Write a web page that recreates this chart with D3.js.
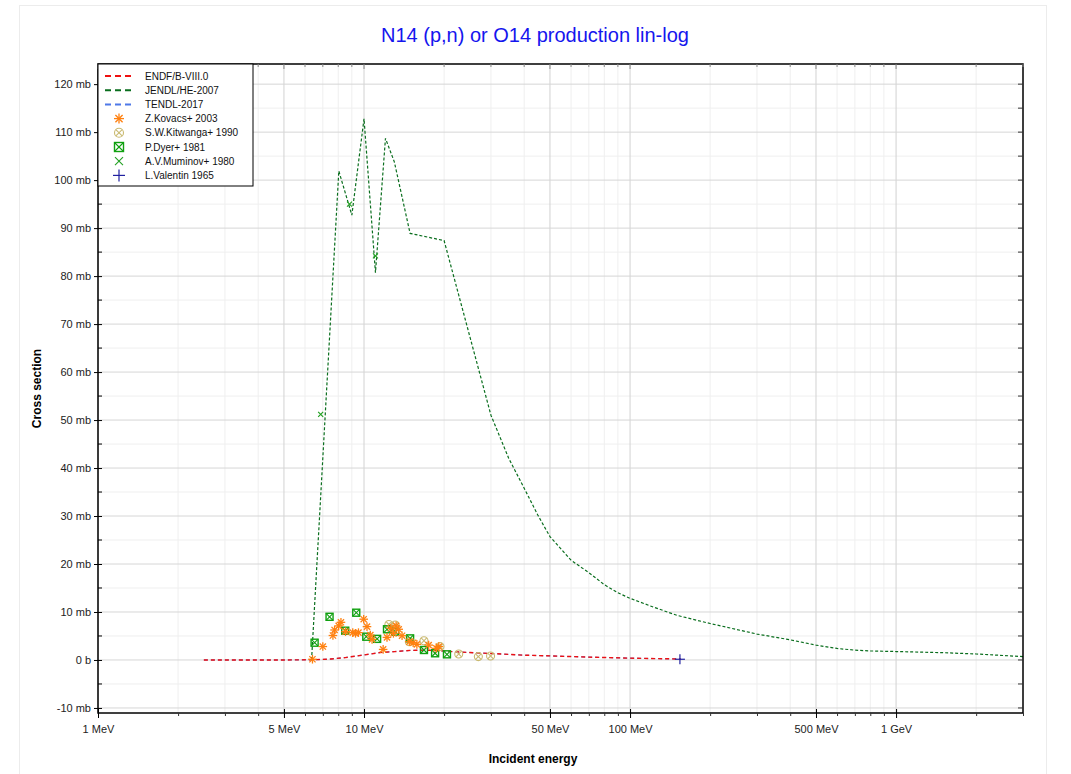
<!DOCTYPE html>
<html><head><meta charset="utf-8">
<script src="https://cdn.jsdelivr.net/npm/d3@7"></script>
<style>
body{margin:0;background:#fff;}
svg{font-family:"Liberation Sans",Arial,sans-serif;}
</style></head>
<body><svg id="c" width="1071" height="774"></svg>
<script>
// ---- data (energies in MeV, cross sections in mb) ----
const xTickValues = [1, 5, 10, 50, 100, 500, 1000];
const xTickLabels = ["1 MeV", "5 MeV", "10 MeV", "50 MeV", "100 MeV", "500 MeV", "1 GeV"];
const yTickValues = [-10, 0, 10, 20, 30, 40, 50, 60, 70, 80, 90, 100, 110, 120];
const yTickLabels = ["-10 mb", "0 b", "10 mb", "20 mb", "30 mb", "40 mb", "50 mb", "60 mb", "70 mb", "80 mb", "90 mb", "100 mb", "110 mb", "120 mb"];

const jendlE = [6.35, 8.04, 9.0, 10.0, 11.04, 12.04, 13.0, 14.9, 20.0, 30.0, 35, 40, 45, 50, 60, 70, 80, 90, 100, 120, 150, 200, 300, 400, 500, 600, 700, 800, 1000, 1500, 2000, 3000];
const jendlV = [0, 101.9, 92.7, 112.8, 80.7, 108.7, 103.8, 88.9, 87.4, 51.0, 42.0, 35.8, 30.2, 25.7, 20.8, 18.2, 15.7, 14.0, 12.85, 11.2, 9.3, 7.6, 5.4, 4.2, 3.1, 2.4, 2.05, 1.88, 1.76, 1.52, 1.25, 0.7];

const endfE = [2.5, 5.0, 6.5, 7.5, 8.5, 10.0, 11.5, 13.0, 15.0, 17.0, 19.0, 22.0, 25.0, 30.0, 40.0, 50.0, 70.0, 100.0, 155.0];
const endfV = [0, 0, 0.05, 0.2, 0.5, 1.05, 1.55, 1.75, 2.0, 2.05, 1.95, 1.7, 1.55, 1.35, 1.0, 0.85, 0.6, 0.38, 0.2];

const tendlE = [2.5, 5.0, 6.5, 7.5, 8.5, 10.0, 11.5, 13.0, 15.0, 17.0, 19.0, 22.0, 25.0, 30.0, 40.0, 50.0, 70.0, 100.0, 155.0];
const tendlV = [0, 0, 0.05, 0.2, 0.5, 1.05, 1.55, 1.75, 2.0, 2.05, 1.95, 1.7, 1.55, 1.35, 1.0, 0.85, 0.6, 0.38, 0.2];

const kovacsE = [6.4, 7.0, 7.64, 7.75, 8.03, 8.19, 8.52, 9.07, 9.29, 9.53, 9.97, 10.26, 10.56, 10.72, 11.8, 12.2, 12.6, 12.9, 13.2, 13.5, 13.9, 14.8, 15.3, 15.8, 17.5, 18.7, 19.1];
const kovacsV = [0.15, 2.8, 5.1, 6.25, 7.1, 7.85, 5.9, 5.7, 5.55, 5.7, 8.5, 6.95, 5.2, 4.3, 2.2, 4.7, 6.6, 5.55, 7.1, 6.4, 5.06, 3.8, 3.6, 3.26, 3.1, 2.43, 2.8];

const kitwangaE = [12.4, 13.1, 14.8, 16.8, 19.3, 22.7, 26.9, 29.9];
const kitwangaV = [7.4, 7.3, 3.8, 4.0, 2.8, 1.25, 0.7, 0.83];

const dyerE = [6.52, 7.42, 8.5, 9.35, 10.2, 11.2, 12.2, 13.1, 14.9, 16.8, 18.5, 20.5];
const dyerV = [3.6, 9.0, 6.1, 9.85, 4.85, 4.4, 6.4, 5.9, 4.5, 2.08, 1.4, 1.18];

const muminovE = [6.87, 8.82, 11.04];
const muminovV = [51.2, 95.0, 84.2];

const valentinE = [154];
const valentinV = [0.15];

const legendLabels = ["ENDF/B-VIII.0", "JENDL/HE-2007", "TENDL-2017", "Z.Kovacs+ 2003", "S.W.Kitwanga+ 1990", "P.Dyer+ 1981", "A.V.Muminov+ 1980", "L.Valentin 1965"];

// ---- drawing ----
const svg = d3.select("#c");
const L = 98, R = 1023, T = 64, B = 713;
const x = d3.scaleLog().domain([1, 3000]).range([L, R]);
const y = d3.scaleLinear().domain([-11.05, 124.2]).range([B, T]);

// outer frame
svg.append("rect").attr("x", 19.5).attr("y", 5.5).attr("width", 1027).attr("height", 780)
  .attr("fill", "none").attr("stroke", "#ececec");

// title
svg.append("text").attr("x", 535).attr("y", 42).attr("text-anchor", "middle")
  .attr("font-size", 20).attr("fill", "#1515ee").text("N14 (p,n) or O14 production lin-log");

// grid
const xMinor = [];
for (let d = 1; d <= 1000; d *= 10) for (let k = 1; k <= 9; k++) { const v = d * k; if (v <= 3000 && !xTickValues.includes(v)) xMinor.push(v); }
const yMinor = d3.range(-10, 125, 5).filter(v => v % 10 !== 0);
const g = svg.append("g");
g.selectAll(".xm").data(xMinor).join("line").attr("x1", d => x(d)).attr("x2", d => x(d)).attr("y1", T).attr("y2", B).attr("stroke", "#efefef");
g.selectAll(".ym").data(yMinor).join("line").attr("x1", L).attr("x2", R).attr("y1", d => y(d)).attr("y2", d => y(d)).attr("stroke", "#efefef");
g.selectAll(".xM").data(xTickValues).join("line").attr("x1", d => x(d)).attr("x2", d => x(d)).attr("y1", T).attr("y2", B).attr("stroke", "#d2d2d2");
g.selectAll(".yM").data(yTickValues).join("line").attr("x1", L).attr("x2", R).attr("y1", d => y(d)).attr("y2", d => y(d)).attr("stroke", "#d6d6d6");

// curves
const line = (E, V) => d3.line().x((d, i) => x(E[i])).y((d, i) => y(V[i]))(E);
svg.append("path").attr("d", line(tendlE, tendlV)).attr("fill", "none").attr("stroke", "#4060e0").attr("stroke-width", 1.0).attr("stroke-dasharray", "4,3");
svg.append("path").attr("d", line(endfE, endfV)).attr("fill", "none").attr("stroke", "#ee1111").attr("stroke-width", 1.4).attr("stroke-dasharray", "4,3");
svg.append("path").attr("d", line(jendlE, jendlV)).attr("fill", "none").attr("stroke", "#0a6e1e").attr("stroke-width", 1.2).attr("stroke-dasharray", "3,2");

// marker functions
function asterisk(sel, cx, cy, c, r) {
  const a = r * 0.72;
  [[-r, 0, r, 0], [0, -r, 0, r], [-a, -a, a, a], [-a, a, a, -a]].forEach(s =>
    sel.append("line").attr("x1", cx + s[0]).attr("y1", cy + s[1]).attr("x2", cx + s[2]).attr("y2", cy + s[3]).attr("stroke", c).attr("stroke-width", 1.3));
}
function circX(sel, cx, cy, c, r) {
  sel.append("circle").attr("cx", cx).attr("cy", cy).attr("r", r).attr("fill", "none").attr("stroke", c).attr("stroke-width", 1.1);
  const a = r * 0.7;
  [[-a, -a, a, a], [-a, a, a, -a]].forEach(s =>
    sel.append("line").attr("x1", cx + s[0]).attr("y1", cy + s[1]).attr("x2", cx + s[2]).attr("y2", cy + s[3]).attr("stroke", c).attr("stroke-width", 1.1));
}
function sqX(sel, cx, cy, c, r) {
  sel.append("rect").attr("x", cx - r).attr("y", cy - r).attr("width", 2 * r).attr("height", 2 * r).attr("fill", "none").attr("stroke", c).attr("stroke-width", 1.4);
  [[-r, -r, r, r], [-r, r, r, -r]].forEach(s =>
    sel.append("line").attr("x1", cx + s[0]).attr("y1", cy + s[1]).attr("x2", cx + s[2]).attr("y2", cy + s[3]).attr("stroke", c).attr("stroke-width", 1.1));
}
function xMark(sel, cx, cy, c, r) {
  [[-r, -r, r, r], [-r, r, r, -r]].forEach(s =>
    sel.append("line").attr("x1", cx + s[0]).attr("y1", cy + s[1]).attr("x2", cx + s[2]).attr("y2", cy + s[3]).attr("stroke", c).attr("stroke-width", 1.1));
}
function plus(sel, cx, cy, c, r) {
  [[-r, 0, r, 0], [0, -r, 0, r]].forEach(s =>
    sel.append("line").attr("x1", cx + s[0]).attr("y1", cy + s[1]).attr("x2", cx + s[2]).attr("y2", cy + s[3]).attr("stroke", c).attr("stroke-width", 1.2));
}
const COL = { kov: "#ff8010", kit: "#c9b970", dyer: "#10a010", mum: "#20a020", val: "#2020a0" };
const mg = svg.append("g");
kitwangaE.forEach((e, i) => circX(mg, x(e), y(kitwangaV[i]), COL.kit, 4));
dyerE.forEach((e, i) => sqX(mg, x(e), y(dyerV[i]), COL.dyer, 3.5));
kovacsE.forEach((e, i) => asterisk(mg, x(e), y(kovacsV[i]), COL.kov, 4.3));
muminovE.forEach((e, i) => xMark(mg, x(e), y(muminovV[i]), COL.mum, 2.5));
valentinE.forEach((e, i) => plus(mg, x(e), y(valentinV[i]), COL.val, 5));

// frame
svg.append("rect").attr("x", L).attr("y", T).attr("width", R - L).attr("height", B - T).attr("fill", "none").attr("stroke", "#000").attr("stroke-width", 1.5);

// axes
const xAxis = d3.axisBottom(x).tickValues(xTickValues).tickFormat((d, i) => xTickLabels[i]).tickSize(5).tickPadding(7);
const xa = svg.append("g").attr("transform", `translate(0,${B})`).call(xAxis);
xa.select(".domain").remove();
xa.selectAll("text").attr("font-size", 11).attr("fill", "#222").attr("font-family", "Liberation Sans, Arial, sans-serif");
xa.selectAll("line").attr("stroke", "#000").attr("y1", -4);
const xmAxis = d3.axisBottom(x).tickValues(xMinor).tickFormat("").tickSize(3);
const xma = svg.append("g").attr("transform", `translate(0,${B})`).call(xmAxis);
xma.select(".domain").remove(); xma.selectAll("line").attr("stroke", "#333");
// top ticks (inward)
svg.append("g").selectAll("line").data(xMinor.concat(xTickValues)).join("line")
  .attr("x1", d => x(d)).attr("x2", d => x(d)).attr("y1", T).attr("y2", d => T + (xTickValues.includes(d) ? 5 : 3)).attr("stroke", "#888");

const yAxis = d3.axisLeft(y).tickValues(yTickValues).tickFormat((d, i) => yTickLabels[i]).tickSize(4).tickPadding(3);
const ya = svg.append("g").attr("transform", `translate(${L},0)`).call(yAxis);
ya.select(".domain").remove();
ya.selectAll("text").attr("font-size", 11).attr("fill", "#222").attr("font-family", "Liberation Sans, Arial, sans-serif");
ya.selectAll("line").attr("stroke", "#000").attr("x2", 4).attr("x1", -4);
svg.append("g").selectAll("line").data(yMinor).join("line")
  .attr("x1", L).attr("x2", L + 4).attr("y1", d => y(d)).attr("y2", d => y(d)).attr("stroke", "#000");
// right ticks inward
svg.append("g").selectAll("line").data(yMinor.concat(yTickValues)).join("line")
  .attr("x1", R).attr("x2", R - 5).attr("y1", d => y(d)).attr("y2", d => y(d)).attr("stroke", "#333");

// axis titles
svg.append("text").attr("x", 533).attr("y", 763).attr("text-anchor", "middle").attr("font-size", 12).attr("font-weight", "bold").text("Incident energy");
svg.append("text").attr("transform", `translate(41,${(T + B) / 2}) rotate(-90)`).attr("text-anchor", "middle").attr("font-size", 12).attr("font-weight", "bold").text("Cross section");

// legend
const lg = svg.append("g");
lg.append("rect").attr("x", L).attr("y", T).attr("width", 155).attr("height", 122).attr("fill", "#fff").attr("stroke", "#000").attr("stroke-width", 1);
const rowY = i => 76 + i * 14.2;
const lineCols = ["#ee1111", "#0a6e1e", "#4f79e8"];
lineCols.forEach((c, i) => lg.append("line").attr("x1", 105).attr("x2", 133).attr("y1", rowY(i)).attr("y2", rowY(i)).attr("stroke", c).attr("stroke-width", 2).attr("stroke-dasharray", "6,4"));
asterisk(lg, 119, rowY(3), COL.kov, 5);
circX(lg, 119, rowY(4), COL.kit, 4.5);
sqX(lg, 119, rowY(5), COL.dyer, 4.5);
xMark(lg, 119, rowY(6), COL.mum, 4);
plus(lg, 119, rowY(7), COL.val, 6);
legendLabels.forEach((t, i) => lg.append("text").attr("x", 145).attr("y", rowY(i) + 3.5).attr("font-size", 10).attr("fill", "#111").text(t));
</script></body></html>
